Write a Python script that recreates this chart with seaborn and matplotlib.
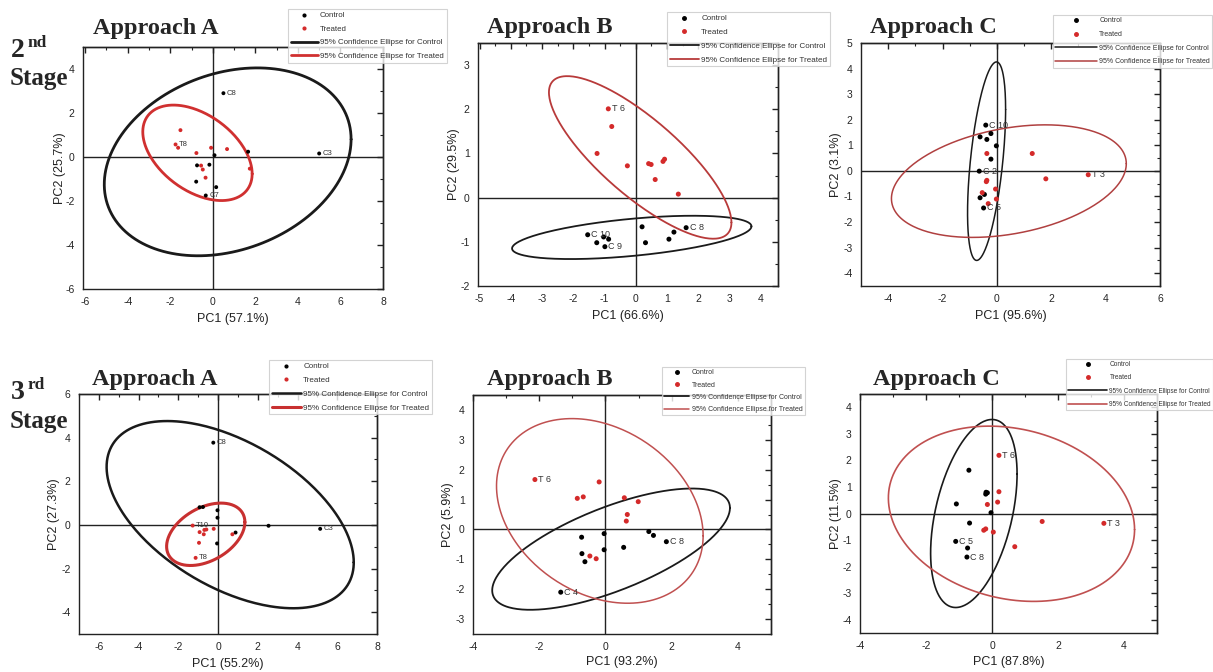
import numpy as np
import pandas as pd
import seaborn as sns
from matplotlib import pyplot as plt
from matplotlib.lines import Line2D
from matplotlib.ticker import MultipleLocator, AutoMinorLocator

sns.set_style('white')
plt.rcParams['font.family'] = ['Liberation Sans', 'DejaVu Sans']
plt.rcParams['axes.unicode_minus'] = False

# ---- data (PC scores) ----
# 2nd stage, approach A
a2_ctrl_x = [0.50, 5.00, 0.08, 1.66, -0.74, -0.16, -0.78, 0.16, -0.33]
a2_ctrl_y = [2.90, 0.16, 0.08, 0.24, -0.38, -0.35, -1.12, -1.37, -1.75]
a2_ctrl_id = ["C8", "C3", "", "", "", "", "", "", "C7"]
a2_trt_x = [-1.52, -1.75, -1.63, -0.77, -0.08, 0.67, 1.74, -0.55, -0.47, -0.34]
a2_trt_y = [1.22, 0.57, 0.42, 0.18, 0.42, 0.36, -0.53, -0.39, -0.57, -0.94]
a2_trt_id = ["", "T8", "", "", "", "", "", "", "", ""]

# 2nd stage, approach B
b2_ctrl_x = [-1.54, -1.25, -1.03, -0.87, -0.99, 0.20, 0.31, 1.06, 1.22, 1.61]
b2_ctrl_y = [-0.84, -1.02, -0.89, -0.94, -1.11, -0.66, -1.02, -0.94, -0.78, -0.68]
b2_ctrl_id = ["C 10", "", "", "", "C 9", "", "", "", "", "C 8"]
b2_trt_x = [-0.88, -0.77, -1.24, -0.27, 0.41, 0.49, 0.87, 0.92, 0.62, 1.36]
b2_trt_y = [2.01, 1.61, 1.00, 0.72, 0.77, 0.75, 0.82, 0.87, 0.41, 0.08]
b2_trt_id = ["T 6", "", "", "", "", "", "", "", "", ""]

# 2nd stage, approach C
c2_ctrl_x = [-0.41, -0.22, -0.62, -0.37, -0.02, -0.22, -0.65, -0.46, -0.62, -0.49]
c2_ctrl_y = [1.79, 1.46, 1.33, 1.23, 0.98, 0.46, -0.01, -0.92, -1.05, -1.45]
c2_ctrl_id = ["C 10", "", "", "", "", "", "C 2", "", "", "C 5"]
c2_trt_x = [-0.37, 1.30, 1.80, 3.36, -0.37, -0.39, -0.05, -0.54, -0.02, -0.32]
c2_trt_y = [0.68, 0.68, -0.31, -0.15, -0.37, -0.42, -0.71, -0.85, -1.10, -1.28]
c2_trt_id = ["", "", "", "T 3", "", "", "", "", "", ""]

# 3rd stage, approach A
a3_ctrl_x = [-0.24, -0.93, -0.76, -0.03, -0.03, 2.54, 5.14, 0.88, -0.05]
a3_ctrl_y = [3.77, 0.81, 0.82, 0.67, 0.33, -0.04, -0.18, -0.35, -0.85]
a3_ctrl_id = ["C8", "", "", "", "", "", "C3", "", ""]
a3_trt_x = [-1.28, -0.93, -0.69, -0.59, -0.72, -0.22, 0.72, -0.96, -1.13]
a3_trt_y = [-0.03, -0.33, -0.23, -0.21, -0.43, -0.18, -0.43, -0.82, -1.51]
a3_trt_id = ["T10", "", "", "", "", "", "", "", "T8"]

# 3rd stage, approach B
b3_ctrl_x = [-0.72, -0.04, -0.71, -0.04, -0.62, 0.55, -1.35, 1.31, 1.45, 1.84]
b3_ctrl_y = [-0.26, -0.14, -0.81, -0.68, -1.08, -0.60, -2.10, -0.07, -0.20, -0.41]
b3_ctrl_id = ["", "", "", "", "", "", "C 4", "", "", "C 8"]
b3_trt_x = [-2.13, -0.19, -0.85, -0.67, 0.57, 0.99, 0.66, 0.63, -0.47, -0.28]
b3_trt_y = [1.67, 1.59, 1.04, 1.09, 1.06, 0.93, 0.50, 0.28, -0.89, -0.98]
b3_trt_id = ["T 6", "", "", "", "", "", "", "", "", ""]

# 3rd stage, approach C
c3_ctrl_x = [-0.70, -1.08, -0.18, -0.14, -0.19, -0.03, -0.68, -1.10, -0.74, -0.76]
c3_ctrl_y = [1.63, 0.36, 0.80, 0.78, 0.73, 0.03, -0.36, -1.05, -1.30, -1.64]
c3_ctrl_id = ["", "", "", "", "", "", "", "C 5", "", "C 8"]
c3_trt_x = [-0.14, 0.17, 0.21, 0.21, -0.25, -0.19, 0.04, 1.52, 0.69, 3.39]
c3_trt_y = [0.34, 0.43, 0.82, 2.19, -0.63, -0.58, -0.70, -0.30, -1.25, -0.37]
c3_trt_id = ["", "", "", "T 6", "", "", "", "", "", "T 3"]

# 95% ellipses: centre x, centre y, half-width, half-height, tilt (sin of phase)
a2_ell_ctrl = [0.70, -0.22, 5.80, 4.27, 0.24]
a2_ell_trt = [-0.72, 0.19, 2.57, 2.17, -0.44]
b2_ell_ctrl = [-0.13, -0.90, 3.83, 0.49, 0.51]
b2_ell_trt = [0.14, 0.91, 2.92, 1.84, -0.80]
c2_ell_ctrl = [-0.38, 0.38, 0.70, 3.88, 0.52]
c2_ell_trt = [0.44, -0.40, 4.32, 2.20, 0.31]
a3_ell_ctrl = [0.61, 0.47, 6.22, 4.29, -0.51]
a3_ell_trt = [-0.62, -0.43, 1.97, 1.43, 0.39]
b3_ell_ctrl = [0.17, -0.66, 3.59, 2.03, 0.68]
b3_ell_trt = [-0.17, 0.62, 3.12, 3.09, -0.27]
c3_ell_ctrl = [-0.55, 0.00, 1.31, 3.54, 0.42]
c3_ell_trt = [0.59, -0.01, 3.73, 3.30, -0.18]

titles = ["Approach A", "Approach B", "Approach C"] * 2
xlabels = ["PC1 (57.1%)", "PC1 (66.6%)", "PC1 (95.6%)",
           "PC1 (55.2%)", "PC1 (93.2%)", "PC1 (87.8%)"]
ylabels = ["PC2 (25.7%)", "PC2 (29.5%)", "PC2 (3.1%)",
           "PC2 (27.3%)", "PC2 (5.9%)", "PC2 (11.5%)"]

sets = [
    (a2_ctrl_x, a2_ctrl_y, a2_ctrl_id, a2_trt_x, a2_trt_y, a2_trt_id, a2_ell_ctrl, a2_ell_trt),
    (b2_ctrl_x, b2_ctrl_y, b2_ctrl_id, b2_trt_x, b2_trt_y, b2_trt_id, b2_ell_ctrl, b2_ell_trt),
    (c2_ctrl_x, c2_ctrl_y, c2_ctrl_id, c2_trt_x, c2_trt_y, c2_trt_id, c2_ell_ctrl, c2_ell_trt),
    (a3_ctrl_x, a3_ctrl_y, a3_ctrl_id, a3_trt_x, a3_trt_y, a3_trt_id, a3_ell_ctrl, a3_ell_trt),
    (b3_ctrl_x, b3_ctrl_y, b3_ctrl_id, b3_trt_x, b3_trt_y, b3_trt_id, b3_ell_ctrl, b3_ell_trt),
    (c3_ctrl_x, c3_ctrl_y, c3_ctrl_id, c3_trt_x, c3_trt_y, c3_trt_id, c3_ell_ctrl, c3_ell_trt),
]

# ---- layout (pixels of a 1213x672 canvas) ----
W, H = 1213, 672
RED = '#d42a2a'

def px_box(l, t, r, b):
    return [l / W, 1 - b / H, (r - l) / W, (b - t) / H]

style = [
    dict(box=(83, 47, 383, 289), xlim=(-6.1, 8), ylim=(-6, 5), xs=2, ys=2, ms=8, lab=5.5,
         lw_c=2.0, lw_t=2.0, red_e='#d03030', leg=(288, 9), lfs=5.7, hl=3.4, lsp=0.75,
         title=(93, 34), xl=313, yl=66),
    dict(box=(478, 43, 778, 286), xlim=(-5.05, 4.55), ylim=(-2, 3.5), xs=1, ys=1, ms=13, lab=6.5,
         lw_c=1.3, lw_t=1.3, red_e='#b83a3a', leg=(667, 12), lfs=5.8, hl=3.6, lsp=0.75,
         title=(487, 33), xl=310, yl=460),
    dict(box=(861, 43, 1160, 286), xlim=(-5, 6), ylim=(-4.5, 5), xs=2, ys=1, ms=13, lab=6.5,
         lw_c=1.1, lw_t=1.1, red_e='#b04040', leg=(1053, 15), lfs=5.0, hl=6.0, lsp=0.95,
         title=(870, 33), xl=310, yl=842),
    dict(box=(79, 394, 377, 634), xlim=(-7, 8), ylim=(-5, 6), xs=2, ys=2, ms=8, lab=5.5,
         lw_c=1.8, lw_t=2.2, red_e='#c83030', leg=(269, 360), lfs=5.8, hl=3.6, lsp=0.75,
         title=(92, 385), xl=658, yl=60),
    dict(box=(473, 395, 771, 634), xlim=(-4, 5), ylim=(-3.5, 4.5), xs=2, ys=1, ms=13, lab=6.5,
         lw_c=1.3, lw_t=1.1, red_e='#c05050', leg=(662, 367), lfs=5.0, hl=3.6, lsp=0.75,
         title=(487, 385), xl=656, yl=454),
    dict(box=(860, 394, 1157, 633), xlim=(-4, 5), ylim=(-4.5, 4.5), xs=2, ys=1, ms=13, lab=6.5,
         lw_c=1.2, lw_t=1.2, red_e='#c05050', leg=(1066, 359), lfs=4.7, hl=6.0, lsp=0.95,
         title=(873, 385), xl=656, yl=842),
]


def ellipse(p):
    cx, cy, rx, ry, s = p
    t = np.linspace(0, 2 * np.pi, 300)
    return cx + rx * np.cos(t), cy + ry * np.sin(t + np.arcsin(s))


fig = plt.figure(figsize=(12.13, 6.72), dpi=100)

for i, (st, d) in enumerate(zip(style, sets)):
    cx_, cy_, cid, tx_, ty_, tid, e_c, e_t = d
    ax = fig.add_axes(px_box(*st['box']))

    df = pd.DataFrame({
        'pc1': list(cx_) + list(tx_),
        'pc2': list(cy_) + list(ty_),
        'group': ['Control'] * len(cx_) + ['Treated'] * len(tx_),
    })

    ax.axhline(0, color='#222222', lw=1.0, zorder=1)
    ax.axvline(0, color='#222222', lw=1.0, zorder=1)

    ex, ey = ellipse(e_c)
    sns.lineplot(x=ex, y=ey, sort=False, estimator=None, color='#1a1a1a', lw=st['lw_c'], ax=ax)
    ex, ey = ellipse(e_t)
    sns.lineplot(x=ex, y=ey, sort=False, estimator=None, color=st['red_e'], lw=st['lw_t'], ax=ax)

    sns.scatterplot(data=df, x='pc1', y='pc2', hue='group',
                    palette={'Control': 'black', 'Treated': RED},
                    s=st['ms'], edgecolor='none', legend=False, ax=ax, zorder=3)

    for xs_, ys_, names in [(cx_, cy_, cid), (tx_, ty_, tid)]:
        for x, y, n in zip(xs_, ys_, names):
            if n:
                ax.annotate(n, (x, y), xytext=(2.5, 0), textcoords='offset points',
                            va='center', ha='left', fontsize=st['lab'], color='#333333')

    ax.set_xlim(*st['xlim'])
    ax.set_ylim(*st['ylim'])
    ax.xaxis.set_major_locator(MultipleLocator(st['xs']))
    ax.yaxis.set_major_locator(MultipleLocator(st['ys']))
    ax.xaxis.set_minor_locator(AutoMinorLocator(2))
    ax.yaxis.set_minor_locator(AutoMinorLocator(2))
    ax.tick_params(which='major', direction='out', length=4, width=1, labelsize=7.5,
                   color='#222222', pad=2)
    ax.tick_params(which='minor', direction='out', length=2, width=0.8, color='#222222')
    for side in ['top', 'right']:
        sec = ax.secondary_xaxis('top') if side == 'top' else ax.secondary_yaxis('right')
        axis = sec.xaxis if side == 'top' else sec.yaxis
        axis.set_major_locator(MultipleLocator(st['xs'] if side == 'top' else st['ys']))
        axis.set_minor_locator(AutoMinorLocator(2))
        sec.tick_params(which='major', direction='in', length=4, width=1,
                        labeltop=False, labelright=False, color='#222222')
        sec.tick_params(which='minor', direction='in', length=2, width=0.8, color='#222222')
        sec.spines[side].set_linewidth(1.0)
    for sp in ax.spines.values():
        sp.set_linewidth(1.0)
        sp.set_color('#222222')

    l, t, r, b = st['box']
    ax.set_xlabel(xlabels[i], fontsize=9, color='#222222')
    ax.set_ylabel(ylabels[i], fontsize=9, color='#222222')
    ax.xaxis.set_label_coords(0.5, -(st['xl'] - b) / (b - t))
    ax.yaxis.set_label_coords((st['yl'] - l) / (r - l), 0.5)

    fig.text(st['title'][0] / W, 1 - st['title'][1] / H, titles[i],
             family='Liberation Serif', weight='bold', fontsize=17.5, va='baseline')

    msz = np.sqrt(st['ms']) * 0.7
    handles = [
        Line2D([], [], marker='o', ls='none', color='black', markersize=msz),
        Line2D([], [], marker='o', ls='none', color=RED, markersize=msz),
        Line2D([], [], color='#1a1a1a', lw=st['lw_c']),
        Line2D([], [], color=st['red_e'], lw=st['lw_t']),
    ]
    names = ['Control', 'Treated', '95% Confidence Ellipse for Control',
             '95% Confidence Ellipse for Treated']
    leg = ax.legend(handles, names, loc='upper left',
                    bbox_to_anchor=(st['leg'][0] / W, 1 - st['leg'][1] / H),
                    bbox_transform=fig.transFigure, fontsize=st['lfs'],
                    frameon=True, fancybox=False, edgecolor='#c8c8c8',
                    borderpad=0.35, borderaxespad=0, handlelength=st['hl'],
                    handletextpad=0.3, labelspacing=st['lsp'])
    leg.get_frame().set_linewidth(0.8)
    for txt in leg.get_texts():
        txt.set_color('#333333')
    leg.set_zorder(10)

# stage labels
serif = dict(family='Liberation Serif', weight='bold', va='baseline')
fig.text(11 / W, 1 - 57 / H, '2', fontsize=20, **serif)
fig.text(28 / W, 1 - 47 / H, 'nd', fontsize=12.5, **serif)
fig.text(10 / W, 1 - 85 / H, 'Stage', fontsize=18, **serif)
fig.text(11 / W, 1 - 399 / H, '3', fontsize=20, **serif)
fig.text(28 / W, 1 - 389 / H, 'rd', fontsize=12.5, **serif)
fig.text(10 / W, 1 - 428 / H, 'Stage', fontsize=18, **serif)

fig.savefig('out.png', dpi=100, facecolor='white')
